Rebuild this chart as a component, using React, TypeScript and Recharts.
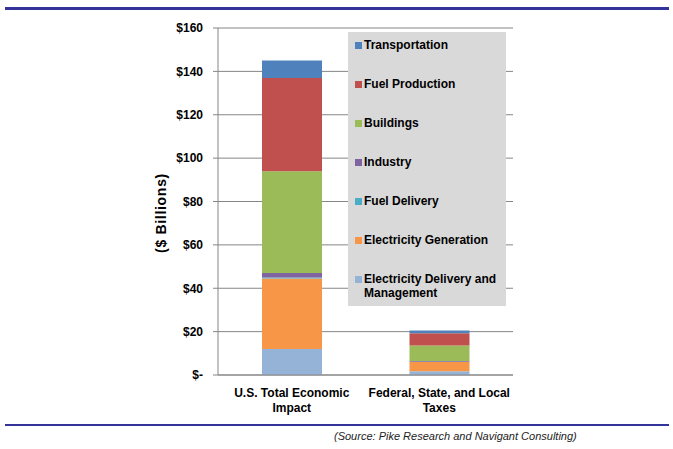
import { BarChart, Bar, XAxis, YAxis, CartesianGrid, Legend } from 'recharts';

const categories = ['U.S. Total Economic Impact', 'Federal, State, and Local Taxes'];

// stacked bottom to top
const seriesNames = [
  'Electricity Delivery and Management',
  'Electricity Generation',
  'Fuel Delivery',
  'Industry',
  'Buildings',
  'Fuel Production',
  'Transportation',
];
const seriesColors = ['#95B3D7', '#F79646', '#4BACC6', '#8064A2', '#9BBB59', '#C0504D', '#4F81BD'];

const electricityDelivery = [12, 1.7];
const electricityGeneration = [32.5, 4.3];
const fuelDelivery = [0.5, 0.1];
const industry = [2, 0.3];
const buildings = [47, 7.2];
const fuelProduction = [43, 5.7];
const transportation = [8, 1.2];

const seriesValues = [
  electricityDelivery,
  electricityGeneration,
  fuelDelivery,
  industry,
  buildings,
  fuelProduction,
  transportation,
];

const yTicks = [0, 20, 40, 60, 80, 100, 120, 140, 160];
const edgeTicks = [0, 1, 2];

const data = categories.map((name, i) => {
  const row: Record<string, string | number> = { name };
  seriesNames.forEach((s, j) => {
    row[s] = seriesValues[j][i];
  });
  return row;
});

const font = '"Liberation Sans", Arial, sans-serif';

const CategoryTick = (props: any) => {
  const { x, y, payload } = props;
  const words = String(payload.value).split(' ');
  const first = words.slice(0, -1).join(' ');
  const last = words[words.length - 1];
  return (
    <text x={x} textAnchor="middle" fontFamily={font} fontWeight="bold" fontSize={12} fill="#000">
      <tspan x={x} y={y + 14}>{first}</tspan>
      <tspan x={x} y={y + 29}>{last}</tspan>
    </text>
  );
};

const LegendBox = () => (
  <div
    style={{
      width: 158,
      height: 274,
      background: '#D9D9D9',
      fontFamily: font,
      fontWeight: 'bold',
      fontSize: 12,
      color: '#000',
      position: 'relative',
    }}
  >
    {[...seriesNames].reverse().map((name, i) => {
      const color = seriesColors[seriesNames.length - 1 - i];
      const twoLine = name.startsWith('Electricity Delivery');
      return (
        <div key={name} style={{ position: 'absolute', left: 7, top: 6 + i * 39, display: 'flex' }}>
          <div style={{ width: 7, height: 7, background: color, marginTop: 4, marginRight: 2, flexShrink: 0 }} />
          <div style={{ lineHeight: '14px' }}>
            {twoLine ? (
              <>
                Electricity Delivery and
                <br />
                Management
              </>
            ) : (
              name
            )}
          </div>
        </div>
      );
    })}
  </div>
);

export default function App() {
  return (
    <div style={{ position: 'fixed', left: 0, top: 0, width: 673, height: 449, background: '#fff' }}>
      <div style={{ position: 'absolute', left: 5, top: 7, width: 664, height: 3, background: '#333399' }} />
      <BarChart
        width={673}
        height={449}
        data={data}
        barSize={60}
        margin={{ top: 28, right: 160, left: 158, bottom: 34 }}
      >
        <CartesianGrid horizontal vertical={false} stroke="#868686" />
        <XAxis xAxisId="edges" type="number" domain={[0, 2]} ticks={edgeTicks} height={0} tick={false} tickSize={5} axisLine={false} tickLine={{ stroke: '#868686' }} allowDataOverflow />
        <XAxis dataKey="name" height={40} tick={<CategoryTick />} tickLine={false} axisLine={{ stroke: '#868686' }} interval={0} />
        <YAxis
          width={60}
          domain={[0, 160]}
          ticks={yTicks}
          interval={0}
          tickSize={5}
          tickMargin={10}
          axisLine={{ stroke: '#868686' }}
          tickLine={{ stroke: '#868686' }}
          tick={{ fontFamily: font, fontWeight: 'bold', fontSize: 12, fill: '#000' }}
          tickFormatter={(v: number) => (v === 0 ? '$-' : `$${v}`)}
          label={{
            content: () => (
              <text
                x={166}
                y={213}
                transform="rotate(-90 166 213)"
                textAnchor="middle"
                fontFamily={font}
                fontWeight="bold"
                fontSize={14}
                letterSpacing={0.7}
                fill="#000"
              >
                ($ Billions)
              </text>
            ),
          }}
        />
        <YAxis yAxisId="right" orientation="right" width={0} domain={[0, 160]} tick={false} tickLine={false} axisLine={{ stroke: '#868686' }} />
        <Legend
          layout="horizontal"
          verticalAlign="middle"
          align="center"
          content={<LegendBox />}
          wrapperStyle={{ position: 'absolute', left: 348, top: 32, width: 158, height: 274 }}
        />
        {seriesNames.map((s, j) => (
          <Bar key={s} dataKey={s} stackId="a" fill={seriesColors[j]} isAnimationActive={false} />
        ))}
      </BarChart>
      <div style={{ position: 'absolute', left: 5, top: 424, width: 664, height: 2, background: '#333399' }} />
      <div
        style={{
          position: 'absolute',
          left: 334,
          top: 430,
          fontFamily: font,
          fontStyle: 'italic',
          fontSize: 11,
          color: '#222',
          whiteSpace: 'nowrap',
        }}
      >
        (Source: Pike Research and Navigant Consulting)
      </div>
    </div>
  );
}
